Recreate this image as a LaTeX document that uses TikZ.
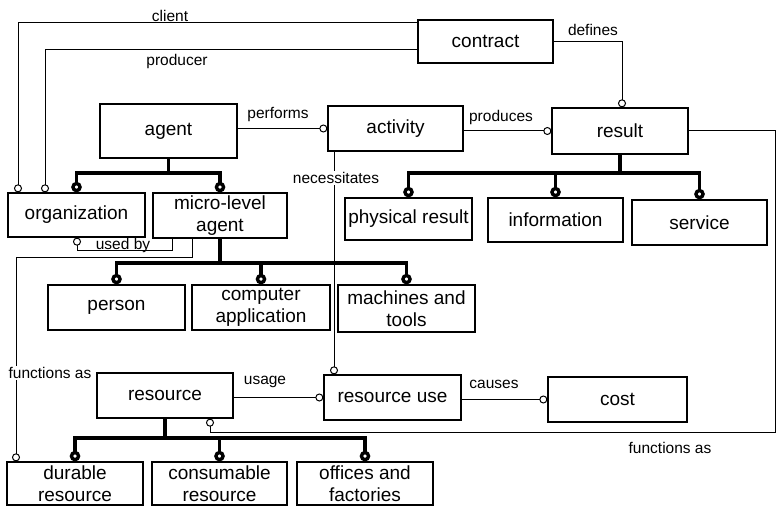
\documentclass[tikz,border=0pt]{standalone}
\usepackage{fontspec}
\setmainfont{Liberation Sans}
\usetikzlibrary{arrows.meta}
\begin{document}
\begin{tikzpicture}[x=1pt,y=-1pt,
  ent/.style={draw, line width=1.3pt, inner sep=0pt, align=center,
    font=\fontsize{19}{21.5}\selectfont, minimum width=136pt, minimum height=45pt},
  lbl/.style={font=\fontsize{15.5}{17}\selectfont, inner sep=1pt},
  rel/.style={line width=1pt, -{Circle[open,length=8pt,width=8pt]}},
  genstem/.style={line width=3.4pt},
  gen/.style={line width=3.4pt, -{Circle[open,length=10.5pt,width=10.5pt]}}
]
\useasboundingbox (0,0) rectangle (777,508);

% entities
\node[ent, minimum width=135pt, minimum height=43pt] (contract) at (485.5,41.5) {contract};
\node[ent, minimum width=137pt, minimum height=54pt] (agent) at (168.5,131) {agent};
\node[ent, minimum width=135pt, minimum height=45pt] (activity) at (395.5,128.5) {activity};
\node[ent, minimum height=46pt] (result) at (620,131) {result};
\node[ent, minimum width=137pt, minimum height=44pt] (org) at (76.5,215) {organization};
\node[ent, minimum width=134pt] (micro) at (220,215.5) {micro-level\\agent};
\node[ent, minimum width=127pt, minimum height=42pt] (phys) at (408.5,219) {physical result};
\node[ent, minimum width=135pt, minimum height=44pt] (info) at (555.5,220) {information};
\node[ent, minimum width=135pt] (serv) at (699.5,222.5) {service};
\node[ent, minimum width=137pt] (person) at (116.5,307.5) {person};
\node[ent, minimum width=138pt] (comp) at (261,307.5) {computer\\application};
\node[ent, minimum width=137pt, minimum height=47pt] (mach) at (406.5,308.5) {machines and\\tools};
\node[ent] (res) at (165,395.5) {resource};
\node[ent, minimum width=137pt] (resuse) at (392.5,397.5) {resource use};
\node[ent, minimum width=139pt] (cost) at (617.5,399.5) {cost};
\node[ent, minimum height=43pt] (dur) at (75,483.5) {durable\\resource};
\node[ent, minimum width=135pt, minimum height=43pt] (cons) at (219.5,483.5) {consumable\\resource};
\node[ent, minimum height=43pt] (off) at (365,483.5) {offices and\\factories};

% relationships
\coordinate (c1) at (18,23);
\draw[rel] (c1 -| contract.west) -- (c1) -- (c1 |- org.north);
\coordinate (p1) at (45,50);
\draw[rel] (p1 -| contract.west) -- (p1) -- (p1 |- org.north);
\coordinate (d1) at (622,42);
\draw[rel] (contract.east |- d1) -- (d1) -- (d1 |- result.north);
\draw[rel] (agent.east |- activity.west) -- (activity.west);
\draw[rel] (activity.east |- result.west) -- (result.west);
\coordinate (f1) at (775,131);
\coordinate (f2) at (775,432);
\coordinate (f3) at (210,432);
\draw[rel] (result.east) -- (f1) -- (f2) -- (f3) -- (f3 |- res.south);
\coordinate (n1) at (334,0);
\draw[rel] (n1 |- activity.south) -- (n1 |- resuse.north);
\coordinate (u1) at (172,250);
\coordinate (u2) at (77,250);
\draw[rel] (u1 |- micro.south) -- (u1) -- (u2) -- (u2 |- org.south);
\coordinate (g1) at (192,257);
\coordinate (g2) at (16,257);
\draw[rel] (g1 |- micro.south) -- (g1) -- (g2) -- (g2 |- dur.north);
\draw[rel] (res.east |- resuse.west) -- (resuse.west);
\draw[rel] (resuse.east |- cost.west) -- (cost.west);

% generalisations
\coordinate (ga) at (168.5,173);
\draw[genstem] (agent.south) -- (ga);
\draw[gen] (ga) -| (org.north);
\draw[gen] (ga) -| (micro.north);
\coordinate (gr) at (620,173);
\draw[genstem] (result.south) -- (gr);
\draw[gen] (gr) -| (phys.north);
\draw[gen] (gr) -| (info.north);
\draw[gen] (gr) -| (serv.north);
\coordinate (gm) at (220,263);
\draw[genstem] (micro.south) -- (gm);
\draw[gen] (gm) -| (person.north);
\draw[gen] (gm) -| (comp.north);
\draw[gen] (gm) -| (mach.north);
\coordinate (gs) at (165,438);
\draw[genstem] (res.south) -- (gs);
\draw[gen] (gs) -| (dur.north);
\draw[gen] (gs) -| (cons.north);
\draw[gen] (gs) -| (off.north);

% labels
\node[lbl] (lclient) at (170,16) {client};
\node[lbl] (lprod) at (177,61) {producer};
\node[lbl] (ldef) at (593,30) {defines};
\node[lbl] (lperf) at (278,115) {performs};
\node[lbl] (lprodc) at (501,117) {produces};
\node[lbl, fill=white] (lnec) at (336,178) {necessitates};
\node[lbl, anchor=base] (lused) at (123,249) {used by};
\node[lbl, fill=white] (lfun1) at (50,373) {functions as};
\node[lbl] (lusage) at (265,382) {usage};
\node[lbl] (lcauses) at (494,384) {causes};
\node[lbl] (lfun2) at (670,448) {functions as};
\end{tikzpicture}
\end{document}
